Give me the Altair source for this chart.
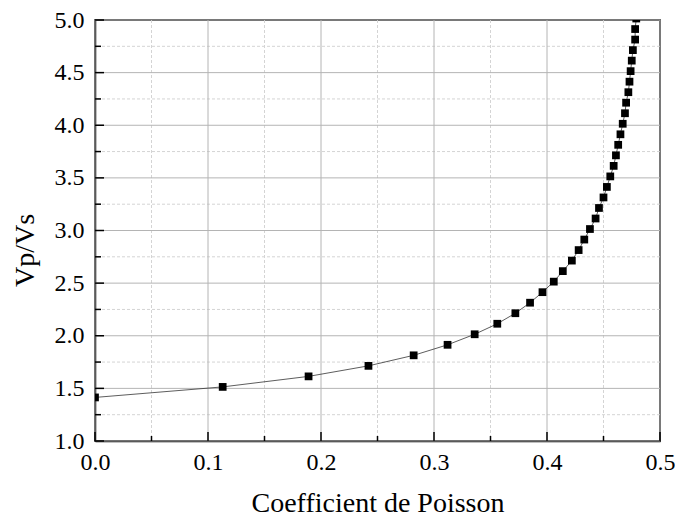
import altair as alt
import pandas as pd

# Data
vp_vs = [1.414, 1.514, 1.614, 1.714, 1.814, 1.914, 2.014, 2.114, 2.214, 2.314,
         2.414, 2.514, 2.614, 2.714, 2.814, 2.914, 3.014, 3.114, 3.214, 3.314,
         3.414, 3.514, 3.614, 3.714, 3.814, 3.914, 4.014, 4.114, 4.214, 4.314,
         4.414, 4.514, 4.614, 4.714, 4.814, 4.914, 5.014]
poisson = [0.000, 0.113, 0.189, 0.242, 0.282, 0.312, 0.336, 0.356, 0.372, 0.385,
           0.396, 0.406, 0.414, 0.422, 0.428, 0.433, 0.438, 0.443, 0.446, 0.450,
           0.453, 0.456, 0.459, 0.461, 0.463, 0.465, 0.467, 0.469, 0.470, 0.472,
           0.473, 0.474, 0.475, 0.476, 0.478, 0.478, 0.479]

x_major = [0.0, 0.1, 0.2, 0.3, 0.4, 0.5]
x_minor = [0.05, 0.15, 0.25, 0.35, 0.45]
y_major = [1.0, 1.5, 2.0, 2.5, 3.0, 3.5, 4.0, 4.5, 5.0]
y_minor = [1.25, 1.75, 2.25, 2.75, 3.25, 3.75, 4.25, 4.75]

W, H = 565, 421
FONT = "Liberation Serif"

df = pd.DataFrame({"nu": poisson, "r": vp_vs})

xscale = alt.Scale(domain=[0, 0.5], nice=False, zero=False)
yscale = alt.Scale(domain=[1.0, 5.0], nice=False, zero=False)

xaxis = alt.Axis(values=x_major, format=".1f", title="Coefficient de Poisson",
                 grid=False, ticks=False, domainColor="black", domainWidth=1.5,
                 labelFont=FONT, labelFontSize=24, labelColor="black", labelPadding=9,
                 labelFlush=False,
                 titleFont=FONT, titleFontSize=28, titleFontWeight="normal",
                 titleColor="black", titleY=62, titleBaseline="middle")
yaxis = alt.Axis(values=y_major, format=".1f", title="Vp/Vs",
                 grid=False, ticks=False, domainColor="black", domainWidth=1.5,
                 labelFont=FONT, labelFontSize=24, labelColor="black", labelPadding=11,
                 labelFlush=False,
                 titleFont=FONT, titleFontSize=28, titleFontWeight="normal",
                 titleColor="black", titleX=-70, titleY=230, titleBaseline="middle")


def X(f):
    return alt.X(f, type="quantitative", scale=xscale, axis=xaxis)


def Y(f):
    return alt.Y(f, type="quantitative", scale=yscale, axis=yaxis)


minor_xg = alt.Chart(pd.DataFrame({"v": x_minor})).mark_rule(
    color="#d4d4d4", strokeWidth=1, strokeDash=[3, 2]).encode(x=X("v"))
minor_yg = alt.Chart(pd.DataFrame({"v": y_minor})).mark_rule(
    color="#d4d4d4", strokeWidth=1, strokeDash=[3, 2]).encode(y=Y("v"))
major_xg = alt.Chart(pd.DataFrame({"v": x_major})).mark_rule(
    color="#b4b4b4", strokeWidth=1).encode(x=X("v"))
major_yg = alt.Chart(pd.DataFrame({"v": y_major})).mark_rule(
    color="#b4b4b4", strokeWidth=1).encode(y=Y("v"))

xt_major = alt.Chart(pd.DataFrame({"v": x_major})).mark_rule(
    color="black", strokeWidth=1.5).encode(
    x=X("v"), y=alt.value(H), y2=alt.value(H - 9))
xt_minor = alt.Chart(pd.DataFrame({"v": x_minor})).mark_rule(
    color="black", strokeWidth=1.5).encode(
    x=X("v"), y=alt.value(H), y2=alt.value(H - 5))
yt_major = alt.Chart(pd.DataFrame({"v": y_major})).mark_rule(
    color="black", strokeWidth=1.5).encode(
    y=Y("v"), x=alt.value(0), x2=alt.value(9))
yt_minor = alt.Chart(pd.DataFrame({"v": y_minor})).mark_rule(
    color="black", strokeWidth=1.5).encode(
    y=Y("v"), x=alt.value(0), x2=alt.value(6))

line = alt.Chart(df).mark_line(color="#333333", strokeWidth=0.8, clip=True).encode(
    x=X("nu"), y=Y("r"), order="r:Q")
pts = alt.Chart(df).mark_square(color="black", size=60, opacity=1, filled=True,
                                clip=True).encode(x=X("nu"), y=Y("r"))

chart = alt.layer(minor_xg, minor_yg, major_xg, major_yg, line, pts,
                  xt_major, xt_minor, yt_major, yt_minor).properties(
    width=W, height=H,
    autosize=alt.AutoSizeParams(type="none"),
    padding={"left": 87, "top": 12, "right": 15, "bottom": 78},
    background="white",
).configure_view(stroke="black", strokeWidth=1.5)

chart.save("out.html", embed_options={"renderer": "svg", "actions": False})
